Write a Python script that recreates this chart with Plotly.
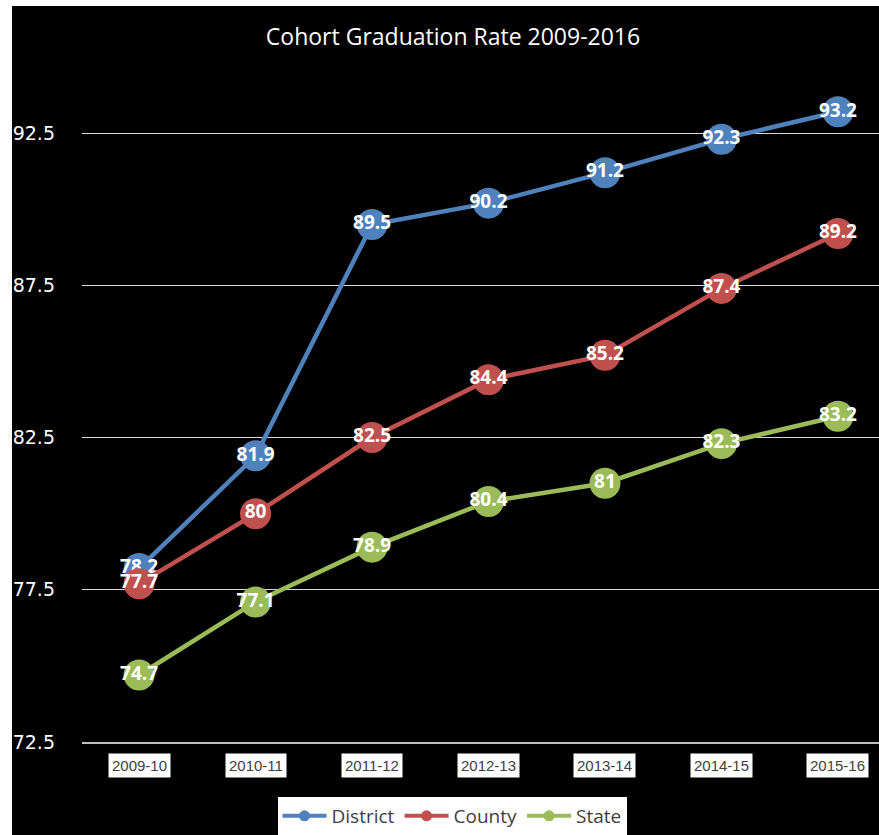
import plotly.graph_objects as go

categories = ["2009-10", "2010-11", "2011-12", "2012-13", "2013-14", "2014-15", "2015-16"]
district = [78.2, 81.9, 89.5, 90.2, 91.2, 92.3, 93.2]
county = [77.7, 80.0, 82.5, 84.4, 85.2, 87.4, 89.2]
state = [74.7, 77.1, 78.9, 80.4, 81.0, 82.3, 83.2]
series_names = ["District", "County", "State"]
series_colors = ["#4f81bd", "#c0504d", "#9bbb59"]
y_ticks = [72.5, 77.5, 82.5, 87.5, 92.5]

W, H = 879, 835
L, R, T, B = 82, 0, 57, 93
pw, ph = W - L - R, H - T - B

fig = go.Figure()
for name, vals, col in zip(series_names, [district, county, state], series_colors):
    fig.add_trace(go.Scatter(
        x=list(range(len(categories))), y=vals, mode="lines+markers+text",
        line=dict(color=col, width=4.5),
        marker=dict(color=col, size=31),
        text=[f"{v:g}" for v in vals], textposition="middle center",
        textfont=dict(color="white", size=19, family="Open Sans", weight="bold"),
        showlegend=False, hoverinfo="skip", cliponaxis=False,
    ))
for name, col in zip(series_names, series_colors):
    fig.add_trace(go.Scatter(
        x=[None], y=[None], mode="lines+markers", name=name,
        line=dict(color=col, width=4), marker=dict(color=col, size=11),
    ))

def px_x(p):
    return (p - L) / pw

def px_y(p):
    return (H - B - p) / ph

annotations = []
for i, c in enumerate(categories):
    annotations.append(dict(
        x=i, xref="x", y=px_y(766), yref="paper", text=c, showarrow=False,
        font=dict(color="#404040", size=15, family="Liberation Sans Narrow, Arial Narrow, sans-serif"),
        bgcolor="white", borderpad=3, xanchor="center", yanchor="middle",
    ))

shapes = [
    dict(type="rect", xref="paper", yref="paper", x0=px_x(0), x1=px_x(12), y0=px_y(H), y1=px_y(0),
         fillcolor="white", line=dict(width=0), layer="above"),
    dict(type="rect", xref="paper", yref="paper", x0=px_x(0), x1=px_x(W), y0=px_y(6), y1=px_y(0),
         fillcolor="white", line=dict(width=0), layer="above"),
]

fig.update_layout(
    width=W, height=H,
    margin=dict(l=L, r=R, t=T, b=B, pad=0),
    paper_bgcolor="black", plot_bgcolor="black",
    title=dict(text="Cohort Graduation Rate 2009-2016", x=px_x(453), xref="paper", xanchor="center",
               y=1 - 37 / H, yanchor="middle",
               font=dict(color="white", size=23, family="Open Sans")),
    xaxis=dict(range=[-0.49, (W - 140) / ((838 - 140) / 6)], showticklabels=False, showgrid=False,
               zeroline=False, showline=True, linecolor="#bfbfbf", linewidth=2, ticks=""),
    yaxis=dict(range=[72.5, 95], tickvals=y_ticks, ticktext=[f"{v}" for v in y_ticks],
               showgrid=True, gridcolor="#d9d9d9", gridwidth=1, zeroline=False, showline=False,
               tickfont=dict(color="white", size=19, family="DejaVu Sans"),
               ticklabelstandoff=26),
    legend=dict(orientation="h", x=px_x(452), xanchor="center", y=px_y(797), yanchor="top",
                bgcolor="white", font=dict(color="#404040", size=19, family="Open Sans"),
                itemwidth=44, tracegroupgap=0, entrywidth=0),
    annotations=annotations, shapes=shapes,
)

fig.write_html("out.html")
